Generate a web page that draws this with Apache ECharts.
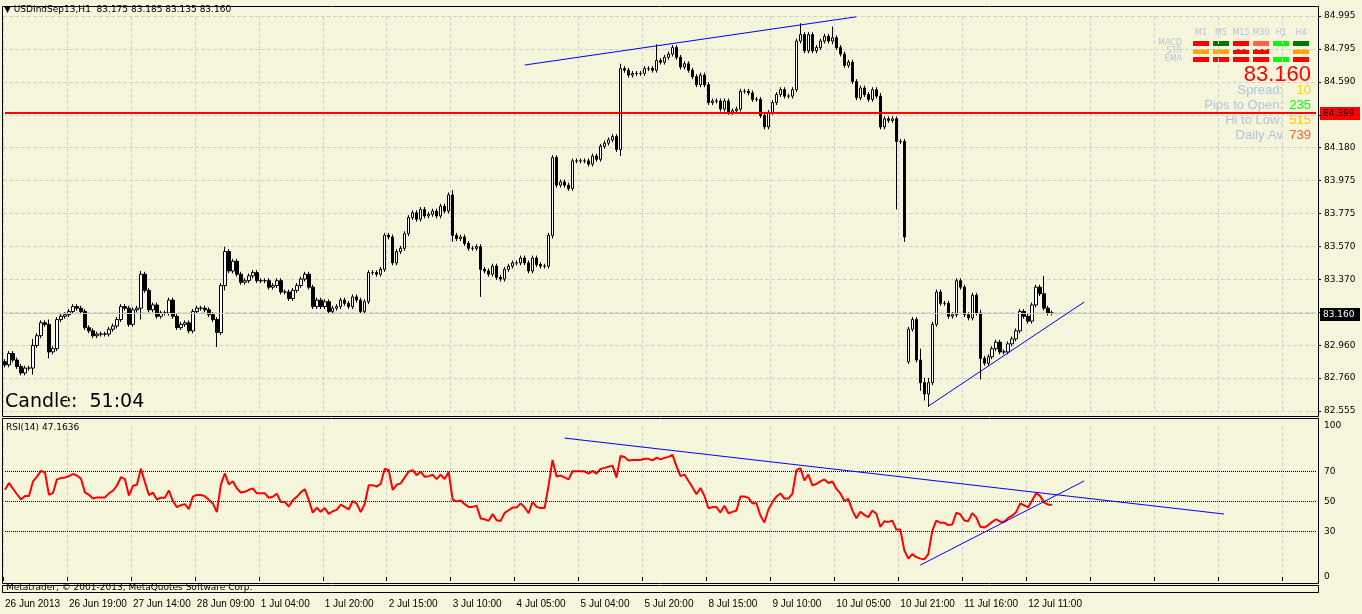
<!DOCTYPE html>
<html><head><meta charset="utf-8">
<script src="https://cdn.jsdelivr.net/npm/echarts@6/dist/echarts.min.js"></script>
<style>html,body{margin:0;padding:0;background:#F5F5DC;}#c{width:1362px;height:614px;}</style>
</head><body><div id="c"></div>
<script>
// Hourly closes, USDIndSep13 H1
const closes = [
82.84,82.91,82.87,82.83,82.79,82.82,82.82,82.96,83.02,83.10,83.09,82.92,82.94,83.12,83.14,83.15,83.17,83.20,83.19,83.17,
83.07,83.05,83.02,83.03,83.03,83.03,83.06,83.08,83.12,83.20,83.19,83.09,83.18,83.19,83.40,83.30,83.18,83.21,83.14,83.16,
83.16,83.24,83.14,83.07,83.09,83.10,83.05,83.17,83.19,83.19,83.18,83.15,83.12,83.04,83.33,83.54,83.42,83.48,83.40,83.35,
83.36,83.39,83.41,83.36,83.36,83.36,83.32,83.33,83.36,83.29,83.29,83.25,83.30,83.33,83.37,83.40,83.32,83.20,83.24,83.20,
83.23,83.17,83.19,83.20,83.24,83.22,83.20,83.26,83.24,83.17,83.23,83.41,83.41,83.40,83.43,83.64,83.63,83.47,83.54,83.56,
83.65,83.75,83.78,83.74,83.80,83.76,83.77,83.79,83.76,83.82,83.79,83.89,83.64,83.62,83.63,83.59,83.56,83.56,83.57,83.43,
83.42,83.40,83.45,83.38,83.37,83.43,83.45,83.47,83.47,83.50,83.47,83.42,83.50,83.46,83.45,83.45,83.64,84.12,83.95,83.97,
83.95,83.93,84.10,84.10,84.10,84.10,84.08,84.13,84.11,84.19,84.21,84.23,84.25,84.17,84.67,84.66,84.63,84.64,84.64,84.64,
84.67,84.67,84.66,84.72,84.71,84.74,84.76,84.80,84.74,84.68,84.70,84.66,84.62,84.57,84.63,84.57,84.46,84.47,84.47,84.42,
84.47,84.40,84.41,84.42,84.53,84.53,84.52,84.48,84.48,84.38,84.31,84.40,84.46,84.51,84.54,84.50,84.50,84.54,84.84,84.88,
84.78,84.88,84.78,84.80,84.84,84.87,84.84,84.86,84.80,84.76,84.69,84.71,84.59,84.49,84.55,84.51,84.48,84.54,84.50,84.31,
84.36,84.35,84.36,84.22,84.22,83.63,83.06,83.12,82.87,82.73,82.66,82.73,83.09,83.29,83.22,83.22,83.14,83.15,83.36,83.32,
83.15,83.13,83.27,83.16,82.88,82.85,82.89,82.94,82.98,82.92,82.92,82.97,83.00,83.05,83.17,83.14,83.11,83.21,83.32,83.28,
83.19,83.16,83.16];
// notable opens that differ from previous close (gaps)
const openOverrides = {0:82.86, 226:82.86};
// notable wick extremes: index -> [high, low]
const wicks = {7:[83.00,82.78],11:[83.12,82.88],34:[83.42,83.12],53:[83.12,82.95],55:[83.57,83.30],112:[83.92,83.60],
119:[83.57,83.26],137:[84.13,83.62],154:[84.70,84.13],163:[84.82,84.66],199:[84.95,84.84],207:[84.93,84.82],
223:[84.36,83.80],225:[84.23,83.60],229:[82.94,82.68],230:[82.76,82.62],231:[82.76,82.58],244:[83.18,82.75],260:[83.39,83.18],
212:[84.72,84.58],219:[84.52,84.30]};
const xTickLabels = ['26 Jun 2013','26 Jun 19:00','27 Jun 14:00','28 Jun 09:00','1 Jul 04:00','1 Jul 20:00','2 Jul 15:00',
'3 Jul 10:00','4 Jul 05:00','5 Jul 04:00','5 Jul 20:00','8 Jul 15:00','9 Jul 10:00','10 Jul 05:00','10 Jul 21:00',
'11 Jul 16:00','12 Jul 11:00'];
const priceTickLabels = ['82.555','82.760','82.960','','83.370','83.570','83.775','83.975','84.180','','84.590','84.795','84.995'];
const rsiTickLabels = {0:'0',30:'30',50:'50',70:'70',100:'100'};
// RSI state carried in from before the first visible bar (avg gain, avg loss)
const rsiSeed = [0.026, 0.019];
const nCats = 329;

const cats = []; for (let i=0;i<nCats;i++) cats.push(String(i));
const ohlc = closes.map((c,i)=>{
  const o = openOverrides[i]!==undefined ? openOverrides[i] : closes[i-1];
  let h = Math.max(o,c)+0.015, l = Math.min(o,c)-0.015;
  if (wicks[i]) { h = Math.max(h,wicks[i][0]); l = Math.min(l,wicks[i][1]); }
  return [o,c,l,h];
});
// RSI(14), Wilder smoothing
const rsi = []; let ag=rsiSeed[0], al=rsiSeed[1];
for (let i=0;i<closes.length;i++){
  if(i>0){
    const d=closes[i]-closes[i-1];
    ag=(ag*13+Math.max(d,0))/14; al=(al*13+Math.max(-d,0))/14;
  }
  rsi.push(al===0?100:100-100/(1+ag/al));
}
const pMin=82.555, pMax=84.995, pInt=(pMax-pMin)/12;
const grid = {type:'dashed',color:'#D3D3C8',width:1};
const vSplit = {show:true,interval:(i)=>i%16===0,lineStyle:grid};
const chart = echarts.init(document.getElementById('c'));
const boxes = [
 ['#FF0000','#007800','#FF0000','#FF6347','#00FF00','#007800'],
 ['#FFA500','#FFA500','#FF0000','#FF0000',null,'#FFA500'],
 ['#FF0000','#FF0000','#FF0000','#FF0000','#00FF00','#FF0000']];
const g = [];
const tf=['M1','M5','M15','M30','H1','H4'];
tf.forEach((t,j)=>g.push({type:'text',x:1201+20*j,y:33,style:{text:t,fill:'#B8C4D8',font:'8px "DejaVu Sans"',textAlign:'center',textVerticalAlign:'middle'}}));
['MACD','STR','EMA'].forEach((t,r)=>g.push({type:'text',x:1182,y:43+8*r,style:{text:t,fill:'#B8C4D8',font:'8px "DejaVu Sans"',textAlign:'right',textVerticalAlign:'middle'}}));
boxes.forEach((row,r)=>row.forEach((c,j)=>{ if(c) g.push({type:'rect',shape:{x:1193+20*j,y:41+8*r,width:16,height:5},style:{fill:c}}); }));
g.push({type:'text',x:1311,y:75,style:{text:'83.160',fill:'#FF0000',font:'22px "Liberation Sans"',textAlign:'right',textVerticalAlign:'middle'}});
const info=[['Spread:','10','#FFD700'],['Pips to Open:','235','#00FF00'],['Hi to Low:','515','#FFC800'],['Daily Av','739','#FF6030']];
info.forEach((r,k)=>{
  g.push({type:'text',x:1283,y:90+15*k,style:{text:r[0],fill:'#B0C4DE',font:'13px "Liberation Sans"',textAlign:'right',textVerticalAlign:'middle'}});
  g.push({type:'text',x:1311,y:90+15*k,style:{text:r[1],fill:r[2],font:'13px "Liberation Sans"',textAlign:'right',textVerticalAlign:'middle'}});
});
// pane borders
g.push({type:'rect',shape:{x:2.5,y:6.5,width:1316,height:410},style:{fill:'none',stroke:'#000',lineWidth:1}});
g.push({type:'rect',shape:{x:2.5,y:418.5,width:1316,height:165},style:{fill:'none',stroke:'#000',lineWidth:1}});
g.push({type:'rect',shape:{x:2.5,y:585.5,width:1316,height:7},style:{fill:'none',stroke:'#000',lineWidth:1}});
g.push({type:'text',x:6,y:588,style:{text:'Metatrader, © 2001-2013, MetaQuotes Software Corp.',fill:'#000',font:'9px "DejaVu Sans"',textVerticalAlign:'middle'}});
g.push({type:'text',x:4,y:10,style:{text:'▼ USDIndSep13,H1  83.175 83.185 83.135 83.160',fill:'#000',font:'9px "DejaVu Sans"',textVerticalAlign:'middle'}});
g.push({type:'text',x:5,y:402,style:{text:'Candle:  51:04',fill:'#000',font:'19px "DejaVu Sans"',textVerticalAlign:'middle'}});
g.push({type:'text',x:6,y:428,style:{text:'RSI(14) 47.1636',fill:'#000',font:'9px "DejaVu Sans"',textVerticalAlign:'middle'}});
// right labels
g.push({type:'rect',shape:{x:1320,y:107,width:40,height:13},style:{fill:'#FF0000'}});
g.push({type:'text',x:1323,y:114,style:{text:'84.399',fill:'#000',font:'9px "DejaVu Sans"',textVerticalAlign:'middle'}});
g.push({type:'rect',shape:{x:1320,y:308,width:40,height:13},style:{fill:'#000'}});
g.push({type:'text',x:1323,y:315,style:{text:'83.160',fill:'#FFF',font:'9px "DejaVu Sans"',textVerticalAlign:'middle'}});

chart.setOption({
  backgroundColor:'#F5F5DC',animation:false,
  grid:[{left:3,right:44,top:16,height:395},{left:3,right:44,top:426,height:151}],
  xAxis:[
    {type:'category',gridIndex:0,data:cats,boundaryGap:true,axisLine:{show:false},axisTick:{show:false},axisLabel:{show:false},splitLine:vSplit},
    {type:'category',gridIndex:1,data:cats,boundaryGap:true,axisLine:{show:false},
     axisTick:{show:true,interval:(i)=>i%16===0,length:4,lineStyle:{color:'#000'}},
     splitLine:vSplit,
     axisLabel:{interval:(i)=>i%16===0,formatter:(v,i)=>xTickLabels[i/16]||'',margin:22,align:'left',color:'#000',fontSize:10,fontFamily:'Liberation Sans'}}
  ],
  yAxis:[
    {type:'value',gridIndex:0,position:'right',min:pMin,max:pMax,interval:pInt,
     axisLine:{show:true,lineStyle:{color:'#000'}},axisTick:{show:true,length:3,lineStyle:{color:'#000'}},
     axisLabel:{margin:6,color:'#000',fontSize:9,fontFamily:'DejaVu Sans',formatter:(v)=>priceTickLabels[Math.round((v-pMin)/pInt)]||''},
     splitLine:{show:true,lineStyle:grid}},
    {type:'value',gridIndex:1,position:'right',min:0,max:100,interval:10,
     axisLine:{show:true,lineStyle:{color:'#000'}},axisTick:{show:false},
     axisLabel:{margin:6,color:'#000',fontSize:9,fontFamily:'DejaVu Sans',formatter:(v)=>rsiTickLabels[Math.round(v)]||''},
     splitLine:{show:false}}
  ],
  series:[
    {type:'candlestick',xAxisIndex:0,yAxisIndex:0,data:ohlc,barWidth:3,
     itemStyle:{color:'#FFFFFF',color0:'#000000',borderColor:'#000',borderColor0:'#000',borderWidth:1},
     markLine:{silent:true,symbol:'none',label:{show:false},data:[
       [{coord:['0',84.399],lineStyle:{color:'#FF0000',width:2,type:'solid'}},{coord:['328',84.399]}],
       [{coord:['0',83.160],lineStyle:{color:'#C8C8C8',width:1,type:'solid'}},{coord:['328',83.160]}],
       [{coord:['130',84.692],lineStyle:{color:'#0000FF',width:1,type:'solid'}},{coord:['213',84.99]}],
       [{coord:['231',82.585],lineStyle:{color:'#0000FF',width:1,type:'solid'}},{coord:['270',83.228]}]
     ]}},
    {type:'line',xAxisIndex:1,yAxisIndex:1,data:rsi,showSymbol:false,lineStyle:{color:'#FF0000',width:2},
     markLine:{silent:true,symbol:'none',label:{show:false},data:[
       [{coord:['0',70],lineStyle:{color:'#000',type:'dotted',width:1}},{coord:['328',70]}],
       [{coord:['0',50],lineStyle:{color:'#000',type:'dotted',width:1}},{coord:['328',50]}],
       [{coord:['0',30],lineStyle:{color:'#000',type:'dotted',width:1}},{coord:['328',30]}],
       [{coord:['140',92],lineStyle:{color:'#0000FF',width:1,type:'solid'}},{coord:['305',41.7]}],
       [{coord:['229',7.9],lineStyle:{color:'#0000FF',width:1,type:'solid'}},{coord:['270',63.6]}]
     ]}}
  ],
  graphic:g
});
</script></body></html>
